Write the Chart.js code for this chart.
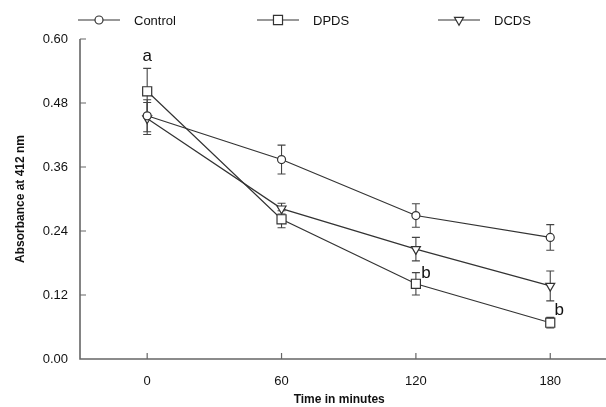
<!DOCTYPE html>
<html>
<head>
<title>Absorbance at 412 nm</title>
<script src="https://cdn.jsdelivr.net/npm/chart.js"></script>
<style>
body { margin: 0; background: #fff; }
#chartContainer { width: 606px; height: 407px; }
</style>
</head>
<body>
  <div id="chartContainer">
    <canvas id="myChart"></canvas>
  </div>

  <script>
  const times = [0, 60, 120, 180];
  const xTicks = [0, 60, 120, 180];
  const yTicks = [0.00, 0.12, 0.24, 0.36, 0.48, 0.60];

  const control = [0.456, 0.374, 0.269, 0.228];
  const controlErr = [0.030, 0.027, 0.022, 0.024];
  const dpds = [0.502, 0.262, 0.141, 0.068];
  const dpdsErr = [0.043, 0.016, 0.021, 0.010];
  const dcds = [0.451, 0.282, 0.206, 0.137];
  const dcdsErr = [0.030, 0.010, 0.022, 0.028];

  // significance letters, in data units
  const letters = [
    { text: 'a', x: 0, y: 0.568 },
    { text: 'b', x: 124.5, y: 0.160 },
    { text: 'b', x: 184, y: 0.092 }
  ];

  const ink = '#333';
  const font = 'Arial, "Liberation Sans", sans-serif';

  const toPoints = vals => times.map((t, i) => ({ x: t, y: vals[i] }));

  function series(label, vals, err, style, radius, rotation) {
    return {
      label: label,
      data: toPoints(vals),
      err: err,
      borderColor: ink,
      borderWidth: 1.2,
      pointStyle: style,
      pointRadius: radius,
      pointRotation: rotation,
      pointBackgroundColor: '#fff',
      pointBorderColor: ink,
      pointBorderWidth: 1.2,
      fill: false,
      tension: 0
    };
  }

  const errorBars = {
    id: 'errorBars',
    beforeDatasetsDraw(chart) {
      const ctx = chart.ctx;
      const xs = chart.scales.x, ys = chart.scales.y;
      ctx.save();
      ctx.strokeStyle = '#444';
      ctx.lineWidth = 1.1;
      chart.data.datasets.forEach(ds => {
        ds.data.forEach((p, i) => {
          const px = xs.getPixelForValue(p.x);
          const top = ys.getPixelForValue(p.y + ds.err[i]);
          const bot = ys.getPixelForValue(p.y - ds.err[i]);
          ctx.beginPath();
          ctx.moveTo(px, top); ctx.lineTo(px, bot);
          ctx.moveTo(px - 4, top); ctx.lineTo(px + 4, top);
          ctx.moveTo(px - 4, bot); ctx.lineTo(px + 4, bot);
          ctx.stroke();
        });
      });
      ctx.restore();
    }
  };

  const extras = {
    id: 'extras',
    afterDatasetsDraw(chart) {
      const ctx = chart.ctx;
      const xs = chart.scales.x, ys = chart.scales.y;
      const area = chart.chartArea;
      ctx.save();
      // axis lines and inward ticks
      ctx.strokeStyle = '#666';
      ctx.lineWidth = 1.6;
      ctx.beginPath();
      ctx.moveTo(area.left, area.top);
      ctx.lineTo(area.left, area.bottom);
      ctx.lineTo(chart.width, area.bottom);
      ctx.stroke();
      ctx.lineWidth = 1.2;
      ctx.beginPath();
      yTicks.slice(1).forEach(v => {
        const py = ys.getPixelForValue(v);
        ctx.moveTo(area.left, py); ctx.lineTo(area.left + 6, py);
      });
      xTicks.forEach(v => {
        const px = xs.getPixelForValue(v);
        ctx.moveTo(px, area.bottom); ctx.lineTo(px, area.bottom - 6);
      });
      ctx.stroke();

      // letters
      ctx.fillStyle = '#111';
      ctx.font = '17px ' + font;
      ctx.textAlign = 'center';
      ctx.textBaseline = 'middle';
      letters.forEach(l => {
        ctx.fillText(l.text, xs.getPixelForValue(l.x), ys.getPixelForValue(l.y));
      });

      // legend: line with marker, then label
      const items = [
        { label: 'Control', style: 'circle', r: 4, rot: 0, x: 78 },
        { label: 'DPDS', style: 'rect', r: 6.4, rot: 0, x: 257 },
        { label: 'DCDS', style: 'triangle', r: 5.2, rot: 180, x: 438 }
      ];
      const ly = 20;
      ctx.font = '13px ' + font;
      ctx.textAlign = 'left';
      items.forEach(it => {
        ctx.strokeStyle = ink;
        ctx.lineWidth = 1.2;
        ctx.beginPath();
        ctx.moveTo(it.x, ly); ctx.lineTo(it.x + 42, ly);
        ctx.stroke();
        ctx.fillStyle = '#fff';
        Chart.helpers.drawPoint(ctx, { pointStyle: it.style, radius: it.r, rotation: it.rot, borderWidth: 1.2 }, it.x + 21, ly);
        ctx.fillStyle = '#111';
        ctx.fillText(it.label, it.x + 56, ly + 1);
      });
      ctx.restore();
    }
  };

  const ctx = document.getElementById('myChart').getContext('2d');
  new Chart(ctx, {
    type: 'line',
    data: {
      datasets: [
        series('Control', control, controlErr, 'circle', 4, 0),
        series('DPDS', dpds, dpdsErr, 'rect', 6.4, 0),
        series('DCDS', dcds, dcdsErr, 'triangle', 5.2, 180)
      ]
    },
    options: {
      responsive: true,
      maintainAspectRatio: false,
      animation: false,
      layout: { padding: { top: 39, right: 0, left: 0, bottom: 0 } },
      plugins: {
        legend: { display: false },
        tooltip: { enabled: false }
      },
      scales: {
        x: {
          type: 'linear',
          min: -30,
          max: 201.5,
          afterBuildTicks: axis => { axis.ticks = xTicks.map(v => ({ value: v })); },
          afterFit: axis => { axis.height = 48; },
          grid: { display: false, drawTicks: false },
          border: { display: false },
          ticks: { color: '#111', font: { family: font, size: 13 }, padding: 15 },
          title: {
            display: true,
            text: 'Time in minutes',
            color: '#111',
            font: { family: font, size: 12, weight: 'bold' },
            padding: { top: 2, bottom: 0 }
          }
        },
        y: {
          min: 0,
          max: 0.6,
          afterBuildTicks: axis => { axis.ticks = yTicks.map(v => ({ value: v })); },
          afterFit: axis => { axis.width = 80; },
          grid: { display: false, drawTicks: false },
          border: { display: false },
          ticks: {
            color: '#111',
            font: { family: font, size: 13 },
            padding: 12,
            callback: v => v.toFixed(2)
          },
          title: {
            display: true,
            text: 'Absorbance at 412 nm',
            color: '#111',
            font: { family: font, size: 12, weight: 'bold' },
            padding: { top: 13, bottom: 0 }
          }
        }
      }
    },
    plugins: [errorBars, extras]
  });
  </script>
</body>
</html>
